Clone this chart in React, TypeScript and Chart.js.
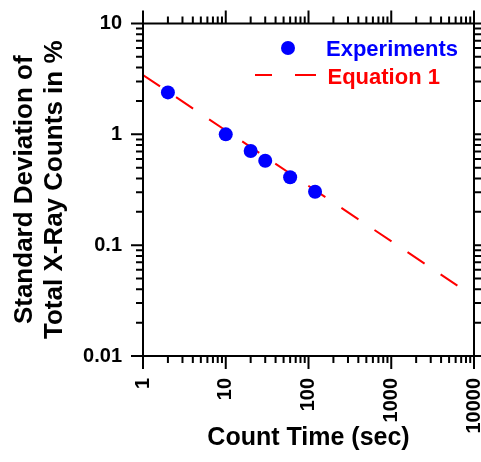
import React, { useEffect, useRef } from 'react';
import { Chart, registerables } from 'chart.js';

Chart.register(...registerables);

// ---- data ----
const expTime = [2, 10, 20, 30, 60, 120];
const expStd = [2.39, 1.0, 0.707, 0.578, 0.41, 0.303];
const eqTime = [1, 6300];
const eqStd = [3.43, 0.0432];
const xTickValues = [1, 10, 100, 1000, 10000];
const yTickValues = [0.01, 0.1, 1, 10];
const xTitle = 'Count Time (sec)';
const yTitle = ['Standard Deviation of', 'Total X-Ray Counts in %'];
const legendLabels = ['Experiments', 'Equation 1'];

const FONT = 'Arial, "Liberation Sans", Helvetica, sans-serif';
const BLUE = '#0000FF';
const RED = '#FF0000';

function minorValues(min: number, max: number): { v: number; major: boolean }[] {
  const out: { v: number; major: boolean }[] = [];
  const e0 = Math.floor(Math.log10(min) + 1e-9);
  const e1 = Math.ceil(Math.log10(max) - 1e-9);
  for (let e = e0; e <= e1; e++) {
    for (let m = 1; m <= 9; m++) {
      const v = m * Math.pow(10, e);
      if (v >= min * (1 - 1e-9) && v <= max * (1 + 1e-9)) out.push({ v, major: m === 1 });
    }
  }
  return out;
}

const frameTicksPlugin = {
  id: 'frameTicks',
  afterDatasetsDraw(chart: any) {
    const { ctx, chartArea, scales } = chart;
    const { left, right, top, bottom } = chartArea;
    const xs = scales.x;
    const ys = scales.y;
    ctx.save();
    ctx.strokeStyle = '#000';
    ctx.lineWidth = 2;
    ctx.lineCap = 'butt';
    ctx.strokeRect(left, top, right - left, bottom - top);
    const MAJ = 13;
    const MIN = 7;
    ctx.lineWidth = 2;
    ctx.beginPath();
    for (const t of minorValues(xs.min, xs.max)) {
      const px = xs.getPixelForValue(t.v);
      const len = t.major ? MAJ : MIN;
      ctx.moveTo(px, bottom);
      ctx.lineTo(px, bottom + len);
      ctx.moveTo(px, top);
      ctx.lineTo(px, top - len);
    }
    for (const t of minorValues(ys.min, ys.max)) {
      const py = ys.getPixelForValue(t.v);
      const len = t.major ? 12 : MIN;
      ctx.moveTo(left, py);
      ctx.lineTo(left - len, py);
      ctx.moveTo(right, py);
      ctx.lineTo(right + len, py);
    }
    ctx.stroke();
    ctx.restore();
  },
};

const legendPlugin = {
  id: 'customLegend',
  afterDatasetsDraw(chart: any) {
    const { ctx, chartArea } = chart;
    const { right, top } = chartArea;
    ctx.save();
    // Experiments
    const mx = right - 186;
    const my = top + 24.5;
    ctx.fillStyle = BLUE;
    ctx.beginPath();
    ctx.arc(mx, my, 7, 0, Math.PI * 2);
    ctx.fill();
    ctx.font = `bold 22px ${FONT}`;
    ctx.textAlign = 'left';
    ctx.textBaseline = 'alphabetic';
    ctx.fillText(legendLabels[0], right - 148, top + 32);
    // Equation 1
    const ly = top + 51.5;
    ctx.strokeStyle = RED;
    ctx.lineWidth = 2;
    ctx.beginPath();
    ctx.moveTo(right - 219, ly);
    ctx.lineTo(right - 202, ly);
    ctx.moveTo(right - 179, ly);
    ctx.lineTo(right - 158, ly);
    ctx.stroke();
    ctx.fillStyle = RED;
    ctx.fillText(legendLabels[1], right - 146.5, top + 60.5);
    ctx.restore();
  },
};

export default function App() {
  const canvasRef = useRef<HTMLCanvasElement | null>(null);

  useEffect(() => {
    if (!canvasRef.current) return;
    const tickFont = { family: FONT, size: 20, weight: 'bold' as const };
    const chart = new Chart(canvasRef.current, {
      type: 'scatter',
      data: {
        datasets: [
          {
            label: legendLabels[0],
            data: expTime.map((t, i) => ({ x: t, y: expStd[i] })),
            backgroundColor: BLUE,
            borderColor: BLUE,
            pointRadius: 7,
            pointBorderWidth: 0,
            showLine: false,
          },
          {
            label: legendLabels[1],
            data: eqTime.map((t, i) => ({ x: t, y: eqStd[i] })),
            showLine: true,
            borderColor: RED,
            backgroundColor: RED,
            borderWidth: 2,
            borderDash: [20.5, 19.3],
            pointRadius: 0,
            fill: false,
          },
        ],
      },
      options: {
        responsive: true,
        maintainAspectRatio: false,
        animation: false,
        layout: { padding: { left: 0, top: 23.5, right: 5, bottom: 0 } },
        plugins: {
          legend: { display: false },
          tooltip: { enabled: false },
        },
        scales: {
          x: {
            type: 'logarithmic',
            position: 'bottom',
            min: 1,
            max: 10000,
            afterBuildTicks: (s: any) => {
              s.ticks = xTickValues.map((v) => ({ value: v }));
            },
            afterFit: (s: any) => {
              s.height = 106;
              s.paddingLeft = 0;
              s.paddingRight = 0;
            },
            ticks: {
              autoSkip: false,
              minRotation: 90,
              maxRotation: 90,
              padding: 9,
              color: '#000',
              font: tickFont,
              callback: (v: any) => String(v),
            },
            grid: {
              display: true,
              drawOnChartArea: false,
              drawTicks: true,
              tickLength: 13,
              color: 'rgba(0,0,0,0)',
            },
            border: { display: false },
            title: {
              display: true,
              text: xTitle,
              color: '#000',
              font: { family: FONT, size: 25, weight: 'bold' },
              padding: { top: 0, bottom: 9 },
            },
          },
          y: {
            type: 'logarithmic',
            position: 'left',
            min: 0.01,
            max: 10,
            afterBuildTicks: (s: any) => {
              s.ticks = yTickValues.map((v) => ({ value: v }));
            },
            afterFit: (s: any) => {
              s.width = 143;
              s.paddingTop = 0;
              s.paddingBottom = 0;
            },
            ticks: {
              autoSkip: false,
              padding: 9,
              color: '#000',
              font: tickFont,
              callback: (v: any) => String(v),
            },
            grid: {
              display: true,
              drawOnChartArea: false,
              drawTicks: true,
              tickLength: 12,
              color: 'rgba(0,0,0,0)',
            },
            border: { display: false },
            title: {
              display: true,
              text: yTitle,
              color: '#000',
              font: { family: FONT, size: 26, weight: 'bold', lineHeight: 30 / 26 },
              padding: { top: 10, bottom: 0 },
            },
          },
        },
      },
      plugins: [frameTicksPlugin, legendPlugin],
    } as any);
    return () => chart.destroy();
  }, []);

  return (
    <div
      style={{
        position: 'fixed',
        left: 0,
        top: 0,
        width: 481,
        height: 462,
        background: '#fff',
      }}
    >
      <canvas ref={canvasRef} />
    </div>
  );
}
